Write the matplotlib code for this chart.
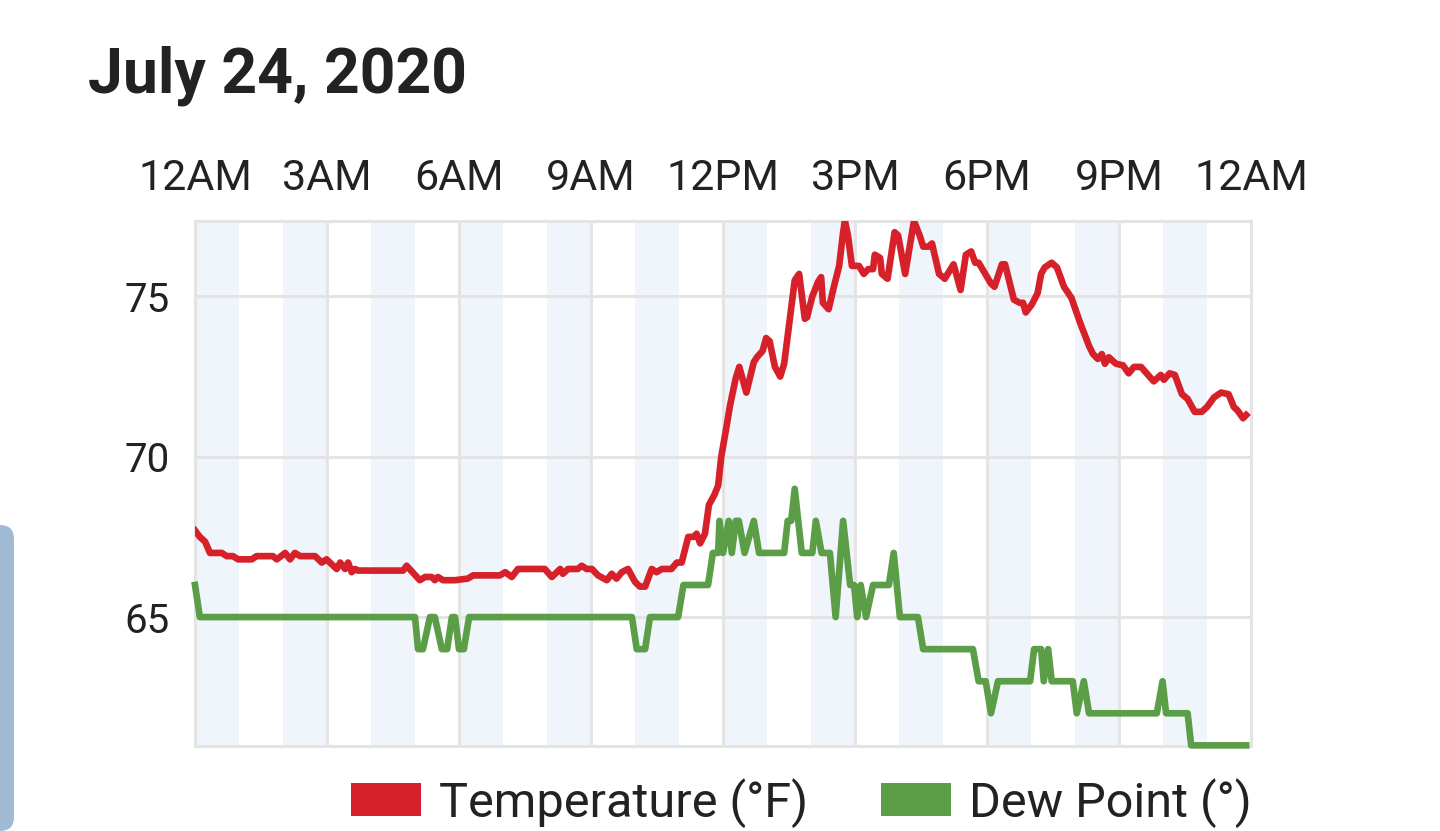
import matplotlib
matplotlib.use("Agg")
import matplotlib.pyplot as plt
from matplotlib.patches import Patch, FancyBboxPatch
from matplotlib.transforms import IdentityTransform

plt.rcParams['font.family'] = ['Roboto', 'DejaVu Sans']

# hours since midnight
temp_hours = [0.00, 0.11, 0.23, 0.34, 0.61, 0.72, 0.86, 0.98, 1.29, 1.40,
              1.77, 1.86, 2.05, 2.16, 2.27, 2.39, 2.73, 2.88, 2.99, 3.22,
              3.30, 3.41, 3.48, 3.56, 3.64, 3.70, 4.73, 4.81, 5.11, 5.23,
              5.38, 5.45, 5.52, 5.64, 5.91, 6.20, 6.32, 6.93, 7.05, 7.20,
              7.34, 7.95, 8.11, 8.30, 8.36, 8.48, 8.70, 8.79, 8.90, 9.02,
              9.16, 9.36, 9.47, 9.58, 9.70, 9.84, 10.00, 10.11, 10.23, 10.38,
              10.49, 10.61, 10.83, 10.95, 11.06, 11.21, 11.33, 11.40, 11.48, 11.59,
              11.68, 11.80, 11.89, 11.96, 12.05, 12.16, 12.29, 12.37, 12.53, 12.70,
              12.77, 12.90, 12.98, 13.06, 13.18, 13.30, 13.39, 13.50, 13.63, 13.73,
              13.86, 13.91, 14.03, 14.16, 14.23, 14.27, 14.40, 14.52, 14.64, 14.73,
              14.77, 14.84, 14.93, 15.09, 15.20, 15.30, 15.41, 15.45, 15.57, 15.61,
              15.74, 15.90, 15.98, 16.14, 16.34, 16.47, 16.55, 16.67, 16.75, 16.91,
              17.04, 17.24, 17.40, 17.52, 17.64, 17.73, 17.81, 18.09, 18.17, 18.34,
              18.41, 18.61, 18.74, 18.82, 18.88, 19.02, 19.15, 19.23, 19.31, 19.47,
              19.59, 19.75, 19.92, 20.11, 20.32, 20.41, 20.52, 20.61, 20.68, 20.77,
              20.93, 21.09, 21.22, 21.34, 21.50, 21.79, 21.95, 22.02, 22.15, 22.27,
              22.43, 22.56, 22.72, 22.88, 23.00, 23.16, 23.32, 23.49, 23.61, 23.69,
              23.82, 23.89]
temp_values = [67.7, 67.5, 67.35, 67.0, 67.0, 66.9, 66.9, 66.8, 66.8, 66.9,
               66.9, 66.8, 67.0, 66.8, 67.0, 66.9, 66.9, 66.7, 66.8, 66.5,
               66.7, 66.5, 66.7, 66.4, 66.5, 66.45, 66.45, 66.6, 66.15, 66.25,
               66.25, 66.15, 66.25, 66.15, 66.15, 66.2, 66.3, 66.3, 66.4, 66.25,
               66.5, 66.5, 66.25, 66.5, 66.35, 66.5, 66.5, 66.6, 66.5, 66.5,
               66.3, 66.15, 66.35, 66.2, 66.4, 66.5, 66.1, 65.95, 65.95, 66.5,
               66.4, 66.5, 66.5, 66.7, 66.7, 67.5, 67.5, 67.6, 67.3, 67.6,
               68.5, 68.8, 69.1, 70.0, 70.7, 71.6, 72.45, 72.8, 72.0, 72.95,
               73.1, 73.3, 73.7, 73.6, 72.8, 72.5, 72.9, 74.1, 75.5, 75.7,
               74.3, 74.35, 75.0, 75.45, 75.6, 74.8, 74.6, 75.3, 75.95, 77.0,
               77.35, 76.9, 75.95, 75.95, 75.7, 75.85, 75.85, 76.3, 76.2, 75.7,
               75.55, 77.0, 76.9, 75.7, 77.35, 76.9, 76.55, 76.55, 76.65, 75.7,
               75.55, 76.0, 75.2, 76.3, 76.4, 76.05, 76.05, 75.4, 75.3, 76.0,
               76.0, 74.9, 74.8, 74.8, 74.5, 74.75, 75.1, 75.7, 75.9, 76.05,
               75.9, 75.3, 74.95, 74.2, 73.45, 73.2, 73.05, 73.2, 72.9, 73.1,
               72.9, 72.85, 72.6, 72.8, 72.8, 72.35, 72.55, 72.4, 72.6, 72.55,
               71.95, 71.8, 71.4, 71.4, 71.55, 71.85, 72.0, 71.95, 71.55, 71.45,
               71.2, 71.3]

dew_hours = [0.00, 0.11, 5.00, 5.07, 5.18, 5.34, 5.45, 5.61, 5.73, 5.84,
             5.91, 6.00, 6.11, 6.23, 9.93, 10.04, 10.23, 10.34, 10.98, 11.10,
             11.66, 11.77, 11.89, 11.92, 12.00, 12.13, 12.20, 12.29, 12.36, 12.49,
             12.70, 12.82, 13.39, 13.47, 13.55, 13.63, 13.79, 14.03, 14.11, 14.24,
             14.43, 14.56, 14.73, 14.89, 14.98, 15.05, 15.13, 15.25, 15.41, 15.77,
             15.88, 16.02, 16.43, 16.55, 17.68, 17.81, 17.97, 18.09, 18.25, 18.98,
             19.07, 19.23, 19.29, 19.39, 19.47, 19.95, 20.04, 20.20, 20.32, 21.86,
             21.99, 22.07, 22.56, 22.64, 23.89]
dew_values = [66, 65, 65, 64, 64, 65, 65, 64, 64, 65,
              65, 64, 64, 65, 65, 64, 64, 65, 65, 66,
              66, 67, 67, 68, 67, 68, 67, 68, 68, 67,
              68, 67, 67, 68, 68, 69, 67, 67, 68, 67,
              67, 65, 68, 66, 66, 65, 66, 65, 66, 66,
              67, 65, 65, 64, 64, 63, 63, 62, 63, 63,
              64, 64, 63, 64, 63, 63, 62, 63, 62, 62,
              63, 62, 62, 61, 61]

tick_hours = [0, 3, 6, 9, 12, 15, 18, 21, 24]
tick_labels = ['12AM', '3AM', '6AM', '9AM', '12PM', '3PM', '6PM', '9PM', '12AM']
y_ticks = [65, 70, 75]

RED = '#d6212a'
GREEN = '#5b9e47'
GRID = '#e4e4e4'
BAND = '#eff5fa'
TEXT = '#222222'

fig = plt.figure(figsize=(14.4, 8.31), dpi=100)
ax = fig.add_axes([195 / 1440, 1 - 746 / 831, 1056 / 1440, 525 / 831])

# light bands on every other hour
for h in range(0, 24, 2):
    ax.axvspan(h, h + 1, color=BAND, lw=0, zorder=0)

ax.plot(temp_hours, temp_values, color=RED, lw=4.8, zorder=4)
ax.plot(dew_hours, dew_values, color=GREEN, lw=4.8, zorder=3, clip_on=False)

ax.set_xlim(0, 24)
ax.set_ylim(60.98, 77.35)
ax.set_xticks(tick_hours)
ax.set_xticklabels(tick_labels)
ax.set_yticks(y_ticks)
ax.xaxis.tick_top()
ax.tick_params(axis='x', length=0, pad=16, labelsize=31, labelcolor=TEXT)
ax.tick_params(axis='y', length=0, pad=18, labelsize=29, labelcolor=TEXT)

ax.set_axisbelow(True)
ax.grid(True, color=GRID, lw=2.2)
for sp in ax.spines.values():
    sp.set_color(GRID)
    sp.set_linewidth(2.2)

fig.text(88 / 1440, 1 - 93 / 831, 'July 24, 2020', fontsize=45,
         fontweight='bold', color=TEXT, ha='left', va='baseline')

handles = [Patch(facecolor=RED, edgecolor='none'),
           Patch(facecolor=GREEN, edgecolor='none')]
fig.legend(handles, ['Temperature (°F)', 'Dew Point (°)'], loc='center',
           bbox_to_anchor=(0.5565, 1 - 803 / 831), ncol=2, frameon=False,
           fontsize=35, handlelength=1.44, handleheight=0.66,
           handletextpad=0.37, columnspacing=1.5, borderpad=0,
           labelcolor=TEXT)

# side tab of the app UI visible at the left edge
tab = FancyBboxPatch((-20, 0), 34, 306, boxstyle='round,pad=0,rounding_size=14',
                     transform=IdentityTransform(), facecolor='#a0bad4',
                     edgecolor='none')
fig.add_artist(tab)

fig.savefig('out.png', dpi=100)
